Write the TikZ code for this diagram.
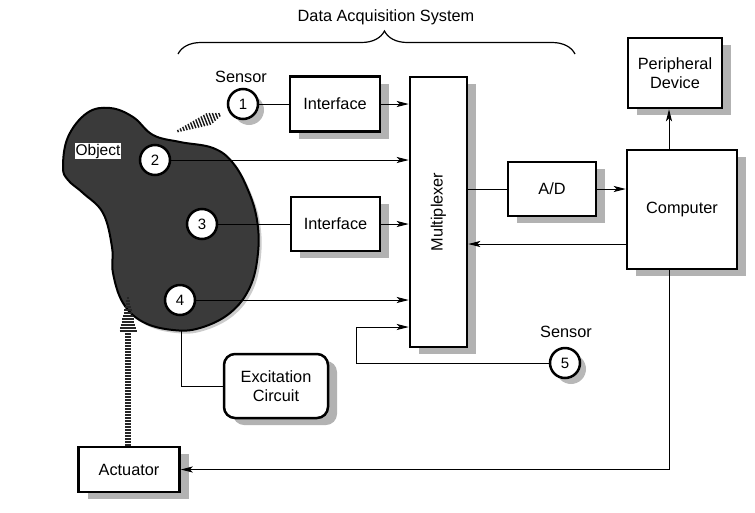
\documentclass[tikz,border=0pt]{standalone}
\usepackage{fontspec}
\setmainfont{Liberation Sans}
\usetikzlibrary{arrows.meta,shadows,calc,decorations.pathreplacing}
\begin{document}
\begin{tikzpicture}[x=1pt,y=-1pt,
  every node/.style={font=\fontsize{16.3}{19}\selectfont},
  box/.style={draw, line width=2.5pt, fill=white, inner sep=2pt, align=center,
    drop shadow={shadow xshift=9pt, shadow yshift=-7pt, fill=black!30, opacity=1}},
  sensor/.style={circle, draw, line width=2.5pt, fill=white, minimum size=30pt, inner sep=0pt,
    font=\fontsize{15}{15}\selectfont},
  sshadow/.style={drop shadow={shadow xshift=6pt, shadow yshift=-6pt, fill=black!28, opacity=1}},
  arr/.style={-{Stealth[length=12pt,width=6pt,inset=3pt]}, line width=0.9pt},
  conn/.style={line width=0.9pt},
  stripe/.style={line width=1.5pt, black!85}
]
\useasboundingbox (0,0) rectangle (755,512);

% brace and title
\draw[line width=1.2pt, decorate, decoration={brace, amplitude=23pt, aspect=0.52}] (178,54) -- (575,54);
\node (title) at (386,17) {Data Acquisition System};

% object blob
\fill[black!20] plot[smooth cycle, tension=0.65] coordinates {
 (66,170) (71,140) (90,116) (113,111) (136,120) (156,138) (183,145) (216,151)
 (236,166) (251,193) (260,223) (261,256) (253,290) (233,316) (203,331) (176,333)
 (146,325) (126,306) (116,276) (115,250) (106,216) (86,196) (71,183)};
\draw[line width=2pt, fill={rgb,255:red,58;green,58;blue,58}] plot[smooth cycle, tension=0.65] coordinates {
 (63,167) (68,137) (87,113) (110,108) (133,117) (153,135) (180,142) (213,148)
 (233,163) (248,190) (257,220) (258,253) (250,287) (230,313) (200,328) (173,330)
 (143,322) (123,303) (113,273) (112,247) (103,213) (83,193) (68,180)};
\node[fill=white, inner sep=1pt, font=\fontsize{15.5}{16}\selectfont] (obj) at (98,151) {Object};

% boxes
\node[box, minimum width=90pt, minimum height=55pt] (if1) at (335,104) {Interface};
\node[box, minimum width=89pt, minimum height=54pt] (if2) at (335.5,224) {Interface};
\node[box, minimum width=57pt, minimum height=270pt] (mux) at (438.5,212) {};
\node[rotate=90] (muxt) at (mux.center) {Multiplexer};
\node[box, minimum width=88pt, minimum height=54pt] (ad) at (552,189) {A/D};
\node[box, minimum width=110pt, minimum height=119pt] (comp) at (682,209.5) {Computer};
\node[box, minimum width=94pt, minimum height=70pt] (per) at (675,73) {Peripheral\\Device};
\node[box, minimum width=101pt, minimum height=45pt] (act) at (129,469.5) {Actuator};
\node[box, rounded corners=11pt, minimum width=104pt, minimum height=64pt] (exc) at (276,386) {Excitation\\Circuit};

% sensors
\node[sensor, sshadow] (s1) at (243,104) {1};
\node (s1l) at (241,77) {Sensor};
\node[sensor] (s2) at (155,160) {2};
\node[sensor] (s3) at (202,224) {3};
\node[sensor] (s4) at (180,300) {4};
\node[sensor, sshadow] (s5) at (565,363) {5};
\node (s5l) at (566,332) {Sensor};

% connectors
\draw[conn] (s1) -- (if1);
\draw[arr] (if1.east) -- (if1.east -| mux.west);
\draw[arr] (s2.east) -- (s2.east -| mux.west);
\draw[conn] (s3) -- (if2);
\draw[arr] (if2.east) -- (if2.east -| mux.west);
\draw[arr] (s4.east) -- (s4.east -| mux.west);
\coordinate (k5) at (356,327);
\draw[arr] (s5.west) -| (k5) -- (k5 -| mux.west);
\draw[conn] (ad.west -| mux.east) -- (ad.west);
\draw[arr] (ad.east) -- (ad.east -| comp.west);
\coordinate (cm) at ([yshift=-34.5pt]comp.west);
\draw[arr] (cm) -- (cm -| mux.east);
\coordinate (cpt) at ([xshift=-13pt]comp.north);
\draw[arr] (cpt) -- (cpt |- per.south);
\coordinate (cb) at ([xshift=-13pt]comp.south);
\draw[arr] (cb) |- (act.east);
\coordinate (ob) at (181,330);
\draw[conn] (ob) |- (exc.west);

% hatched arrow actuator -> object
\coordinate (ah) at (128,331);
\draw[line width=6.5pt, black!85, dash pattern=on 1.5pt off 1.5pt] (act.north -| ah) -- (ah);
\foreach \i in {0,...,11} {
  \pgfmathsetmacro\hw{8.5-\i*0.68}
  \draw[stripe] ($(ah)+(-\hw,-\i*3)$) -- ($(ah)+(\hw,-\i*3)$);
}

% hatched arrow object -> sensor 1
\coordinate (t1) at (178,131);
\coordinate (t2) at (224,113);
\foreach \t in {0,0.06,...,0.95} {
  \pgfmathsetmacro\w{\t<0.68 ? 1.2+\t*7.5 : (1-\t)*19}
  \draw[line width=1.4pt, black!90] ($(t1)!\t!(t2)!\w pt!90:(t2)$) -- ($(t1)!\t!(t2)!\w pt!-90:(t2)$);
}
\end{tikzpicture}
\end{document}
